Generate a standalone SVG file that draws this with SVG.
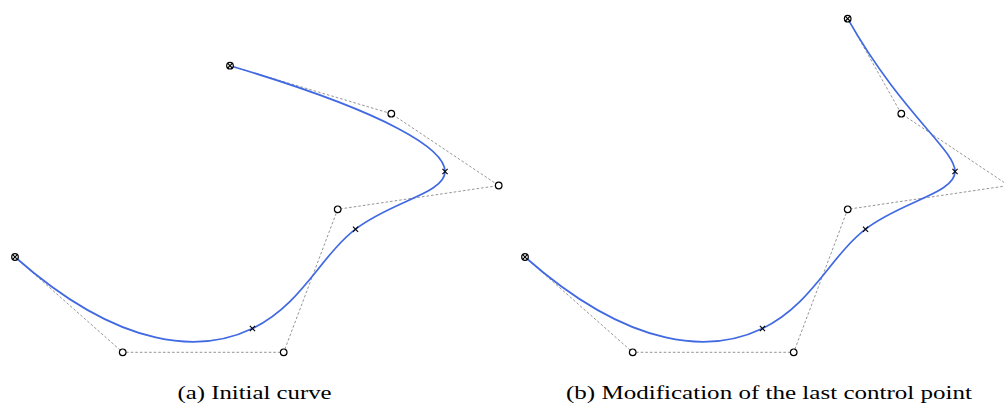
<svg xmlns="http://www.w3.org/2000/svg" xmlns:xlink="http://www.w3.org/1999/xlink" width="1004" height="405" viewBox="0 0 1004 405">
  <style>
    .poly { fill: none; stroke: #7a7a7a; stroke-width: 0.8; stroke-dasharray: 2.6 2; }
    .curve { fill: none; stroke: #4169e1; stroke-width: 1.7; stroke-linecap: round; }
    .cp { fill: #ffffff; stroke: #000000; stroke-width: 1.2; }
    .mk { fill: none; stroke: #000000; stroke-width: 1.1; }
    .cap { font-family: "Liberation Serif", "DejaVu Serif", serif; font-size: 18px; fill: #000000; }
  </style>
  <defs>
    <g id="ctrl"><circle class="cp" cx="0" cy="0" r="3.3"/></g>
    <g id="endp"><circle class="cp" cx="0" cy="0" r="3.3"/><path class="mk" d="M-2.3,-2.3 L2.3,2.3 M-2.3,2.3 L2.3,-2.3"/></g>
    <g id="knot"><path class="mk" d="M-2.6,-2.6 L2.6,2.6 M-2.6,2.6 L2.6,-2.6"/></g>
  </defs>
  <rect x="0" y="0" width="1004" height="405" fill="#ffffff"/>

  <g id="connectors">
    <polyline id="polygon-a" class="poly" points="15,257 122.7,352.3 283.7,352.3 337.7,209.3 498.7,185.5 391.3,113.7 230,65.7"/>
    <path id="curve-a" class="curve" d="M15,257 C122.7,352.3 203.2,352.3 252.45,328.47 C301.7,304.63 319.7,256.97 355.53,229.17 C391.37,201.37 445.03,193.43 445.02,171.52 C445,149.6 391.3,113.7 230,65.7"/>
    <polyline id="polygon-b" class="poly" points="525,257 632.7,352.3 793.7,352.3 847.7,209.3 1008.7,185.5 901.3,113.7 847.7,18.7"/>
    <path id="curve-b" class="curve" d="M525,257 C632.7,352.3 713.2,352.3 762.45,328.47 C811.7,304.63 829.7,256.97 865.53,229.17 C901.37,201.37 955.03,193.43 955.02,171.52 C955,149.6 901.3,113.7 847.7,18.7"/>
  </g>

  <g id="a-p0"><use xlink:href="#endp" x="15" y="257"/></g>
  <g id="a-p1"><use xlink:href="#ctrl" x="122.7" y="352.3"/></g>
  <g id="a-p2"><use xlink:href="#ctrl" x="283.7" y="352.3"/></g>
  <g id="a-p3"><use xlink:href="#ctrl" x="337.7" y="209.3"/></g>
  <g id="a-p4"><use xlink:href="#ctrl" x="498.7" y="185.5"/></g>
  <g id="a-p5"><use xlink:href="#ctrl" x="391.3" y="113.7"/></g>
  <g id="a-p6"><use xlink:href="#endp" x="230" y="65.7"/></g>
  <g id="a-k1"><use xlink:href="#knot" x="252.45" y="328.47"/></g>
  <g id="a-k2"><use xlink:href="#knot" x="355.53" y="229.17"/></g>
  <g id="a-k3"><use xlink:href="#knot" x="445.02" y="171.52"/></g>

  <g id="b-p0"><use xlink:href="#endp" x="525" y="257"/></g>
  <g id="b-p1"><use xlink:href="#ctrl" x="632.7" y="352.3"/></g>
  <g id="b-p2"><use xlink:href="#ctrl" x="793.7" y="352.3"/></g>
  <g id="b-p3"><use xlink:href="#ctrl" x="847.7" y="209.3"/></g>
  <g id="b-p5"><use xlink:href="#ctrl" x="901.3" y="113.7"/></g>
  <g id="b-p6"><use xlink:href="#endp" x="847.7" y="18.7"/></g>
  <g id="b-k1"><use xlink:href="#knot" x="762.45" y="328.47"/></g>
  <g id="b-k2"><use xlink:href="#knot" x="865.53" y="229.17"/></g>
  <g id="b-k3"><use xlink:href="#knot" x="955.02" y="171.52"/></g>

  <g id="caption-a"><text class="cap" x="177.5" y="399" textLength="154" lengthAdjust="spacingAndGlyphs">(a) Initial curve</text></g>
  <g id="caption-b"><text class="cap" x="566" y="399" textLength="406" lengthAdjust="spacingAndGlyphs">(b) Modification of the last control point</text></g>
</svg>
